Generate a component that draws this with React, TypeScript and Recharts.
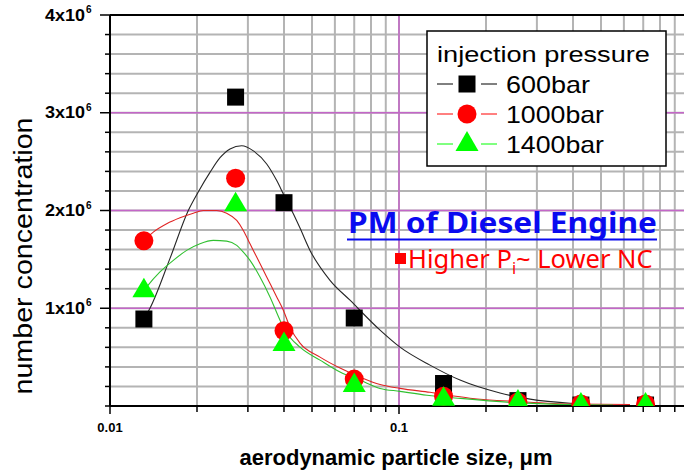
import React from 'react';
import { ComposedChart, Line, Scatter, XAxis, YAxis, CartesianGrid, ReferenceLine } from 'recharts';

// measured particle sizes (µm) and number concentrations (x10^6)
const particleSize = [0.0131, 0.0272, 0.040, 0.070, 0.1426, 0.258, 0.426, 0.713];
const nc600 = [0.89, 3.16, 2.08, 0.90, 0.23, 0.055, 0.01, 0.01];
const nc1000 = [1.69, 2.33, 0.77, 0.275, 0.10, 0.04, 0.02, 0.02];
const nc1400 = [1.18, 2.06, 0.63, 0.21, 0.07, 0.04, 0.01, 0.01];

// fitted curves
const fit600Size = [0.0131, 0.01375, 0.01613, 0.01866, 0.0202, 0.02218, 0.02403, 0.02602, 0.02855, 0.03134, 0.03485, 0.03775, 0.03979, 0.04309, 0.04544, 0.04921, 0.05771, 0.06768, 0.086, 0.1008, 0.128, 0.1626, 0.2236, 0.2841, 0.4];
const fit600NC = [0.89, 1.0, 1.51, 2.0, 2.19, 2.39, 2.54, 2.63, 2.663, 2.61, 2.476, 2.306, 2.17, 1.966, 1.82, 1.592, 1.286, 1.082, 0.776, 0.602, 0.418, 0.265, 0.133, 0.07, 0.025];

const fit1000Size = [0.0131, 0.01412, 0.01571, 0.01747, 0.01942, 0.02103, 0.0234, 0.02534, 0.02745, 0.02893, 0.03051, 0.03218, 0.03485, 0.03775, 0.03979, 0.04196, 0.04544, 0.0533, 0.0625, 0.07328, 0.086, 0.1008, 0.128, 0.1761, 0.2622, 0.4, 0.63];
const fit1000NC = [1.694, 1.779, 1.864, 1.925, 1.972, 2.0, 2.0, 1.972, 1.898, 1.796, 1.66, 1.524, 1.32, 1.116, 0.98, 0.806, 0.643, 0.5, 0.388, 0.296, 0.22, 0.18, 0.14, 0.08, 0.045, 0.02, 0.015];

const fit1400Size = [0.0131, 0.0134, 0.01489, 0.01656, 0.01842, 0.02048, 0.02278, 0.02534, 0.02745, 0.02893, 0.03051, 0.03304, 0.03578, 0.03875, 0.04032, 0.04544, 0.0533, 0.0625, 0.07328, 0.086, 0.1008, 0.125, 0.16, 0.25, 0.5, 0.55];
const fit1400NC = [1.18, 1.218, 1.371, 1.49, 1.592, 1.66, 1.694, 1.687, 1.643, 1.574, 1.49, 1.32, 1.116, 0.878, 0.776, 0.602, 0.469, 0.347, 0.265, 0.18, 0.15, 0.11, 0.08, 0.035, 0.01, 0.01];

const xTicks = [0.01, 0.02, 0.03, 0.04, 0.05, 0.06, 0.07, 0.08, 0.09, 0.1, 0.2, 0.3, 0.4, 0.5, 0.6, 0.7, 0.8, 0.9, 1];
const xLabels = [0.01, 0.1];
const yTicks = [0, 0.2, 0.4, 0.6, 0.8, 1, 1.2, 1.4, 1.6, 1.8, 2, 2.2, 2.4, 2.6, 2.8, 3, 3.2, 3.4, 3.6, 3.8, 4];
const yLabels = [1, 2, 3, 4];
const majorGridX = [0.1];
const majorGridY = [1, 2, 3];

const seriesNames = ['600bar', '1000bar', '1400bar'];
const legendTitle = 'injection pressure';

const toPoints = (xs: number[], ys: number[]) => xs.map((x, i) => ({ x, y: ys[i] }));

const pts600 = toPoints(particleSize, nc600);
const pts1000 = toPoints(particleSize, nc1000);
const pts1400 = toPoints(particleSize, nc1400);
const curve600 = toPoints(fit600Size, fit600NC);
const curve1000 = toPoints(fit1000Size, fit1000NC);
const curve1400 = toPoints(fit1400Size, fit1400NC);

const FONT = 'Liberation Sans, Arial, sans-serif';

const SquareShape = (p: any) => (
  <rect x={p.cx - 8.5} y={p.cy - 8.5} width={17} height={17} fill="#000" />
);
const CircleShape = (p: any) => <circle cx={p.cx} cy={p.cy} r={9.5} fill="#ff0000" />;
const TriangleShape = (p: any) => (
  <polygon
    points={`${p.cx},${p.cy - 13} ${p.cx + 11.5},${p.cy + 6.5} ${p.cx - 11.5},${p.cy + 6.5}`}
    fill="#00ff00"
  />
);

const near = (a: number, b: number) => Math.abs(a - b) < 1e-9;

const XTick = (props: any) => {
  const { x, y, payload } = props;
  const v = payload.value;
  const lab = xLabels.find((l) => near(l, v));
  return (
    <g>
      <line x1={x} x2={x} y1={y} y2={y + (lab !== undefined ? 8 : 6)} stroke="#000" strokeWidth={1.5} />
      {lab !== undefined && (
        <text x={x} y={y + 26} textAnchor="middle" fontSize={13} fontWeight="bold" fontFamily={FONT} fill="#000">
          {String(lab)}
        </text>
      )}
    </g>
  );
};

const YTick = (props: any) => {
  const { x, y, payload } = props;
  const v = payload.value;
  const lab = yLabels.find((l) => near(l, v));
  const major = lab !== undefined;
  return (
    <g>
      <line x1={x - (major ? 10 : 5)} x2={x} y1={y} y2={y} stroke="#000" strokeWidth={1.5} />
      {major && (
        <text x={x - 25} y={y + 5.5} textAnchor="end" fontSize={17} fontWeight="bold" fontFamily={FONT} fill="#000" textLength={40} lengthAdjust="spacingAndGlyphs">
          {`${lab}x10`}
        </text>
      )}
      {major && (
        <text x={x - 24} y={y - 2} textAnchor="start" fontSize={10} fontWeight="bold" fontFamily={FONT} fill="#000">
          6
        </text>
      )}
    </g>
  );
};

const RTick = (props: any) => {
  const { x, y } = props;
  return <line x1={x - 5} x2={x} y1={y} y2={y} stroke="#000" strokeWidth={1.5} />;
};

const LEG_FONT = 'Liberation Sans, Arial, sans-serif';

const Overlay = () => (
  <svg width={684} height={472} style={{ position: 'absolute', left: 0, top: 0, pointerEvents: 'none' }}>
    {/* y axis title */}
    <text
      x={32}
      y={256}
      transform="rotate(-90, 32, 256)"
      textAnchor="middle"
      fontSize={25}
      fontFamily={FONT}
      fill="#000"
      textLength={277}
      lengthAdjust="spacingAndGlyphs"
    >
      number concentration
    </text>
    {/* x axis title */}
    <text x={396} y={465} textAnchor="middle" fontSize={22} fontWeight="bold" fontFamily={FONT} fill="#000">
      aerodynamic particle size, μm
    </text>
    {/* legend */}
    <rect x={427} y={31} width={239} height={135} fill="#fff" stroke="#000" strokeWidth={1.5} />
    <text x={437} y={62} fontSize={22} fontFamily={LEG_FONT} fill="#000" textLength={213} lengthAdjust="spacingAndGlyphs">
      {legendTitle}
    </text>
    {/* row 1 */}
    <line x1={437} x2={453} y1={84} y2={84} stroke="#000" strokeWidth={1} />
    <line x1={481} x2={497} y1={84} y2={84} stroke="#000" strokeWidth={1} />
    <rect x={458.5} y={75.5} width={17} height={17} fill="#000" />
    <text x={506} y={93} fontSize={24} fontFamily={LEG_FONT} fill="#000" textLength={84} lengthAdjust="spacingAndGlyphs">
      {seriesNames[0]}
    </text>
    {/* row 2 */}
    <line x1={437} x2={453} y1={114} y2={114} stroke="#ff0000" strokeWidth={1} />
    <line x1={481} x2={497} y1={114} y2={114} stroke="#ff0000" strokeWidth={1} />
    <circle cx={467} cy={114} r={9.5} fill="#ff0000" />
    <text x={506} y={123} fontSize={24} fontFamily={LEG_FONT} fill="#000" textLength={98} lengthAdjust="spacingAndGlyphs">
      {seriesNames[1]}
    </text>
    {/* row 3 */}
    <line x1={437} x2={453} y1={144} y2={144} stroke="#00ff00" strokeWidth={1} />
    <line x1={481} x2={497} y1={144} y2={144} stroke="#00ff00" strokeWidth={1} />
    <polygon points="467,131 478.5,151 455.5,151" fill="#00ff00" />
    <text x={506} y={153} fontSize={24} fontFamily={LEG_FONT} fill="#000" textLength={98} lengthAdjust="spacingAndGlyphs">
      {seriesNames[2]}
    </text>
    {/* annotation */}
    <text x={348} y={233} fontSize={28} fontWeight="bold" fontFamily="Noto Sans, sans-serif" fill="#0a0af0" textLength={309} lengthAdjust="spacingAndGlyphs">
      PM of Diesel Engine
    </text>
    <line x1={347} x2={657} y1={239.5} y2={239.5} stroke="#0a0af0" strokeWidth={2} />
    <rect x={395} y={253} width={11} height={11} fill="#ff0000" />
    <text x={408} y={268} fontSize={25.5} fontFamily="Noto Sans, sans-serif" fill="#ff0000">
      Higher P
      <tspan fontSize={16} dy={6}>i</tspan>
      <tspan fontSize={25.5} dy={-6}>~ Lower NC</tspan>
    </text>
  </svg>
);

export default function App() {
  return (
    <div style={{ position: 'absolute', left: 0, top: 0, width: 684, height: 472, overflow: 'hidden', background: '#fff' }}>
      <ComposedChart width={700} height={472} margin={{ top: 15, right: 12, bottom: 0, left: 0 }}>
        <CartesianGrid stroke="#b4b4b4" strokeWidth={2} />
        <XAxis
          dataKey="x"
          type="number"
          scale="log"
          domain={[0.01, 1]}
          ticks={xTicks}
          interval={0}
          height={66}
          tickSize={0}
          tickMargin={0}
          tickLine={false}
          tick={<XTick />}
          axisLine={{ stroke: '#000', strokeWidth: 2 }}
          allowDataOverflow
        />
        <YAxis
          dataKey="y"
          type="number"
          domain={[0, 4]}
          ticks={yTicks}
          interval={0}
          width={110}
          tickSize={0}
          tickMargin={0}
          tickLine={false}
          tick={<YTick />}
          axisLine={{ stroke: '#000', strokeWidth: 2 }}
          allowDataOverflow
        />
        <YAxis
          yAxisId="right"
          orientation="right"
          type="number"
          domain={[0, 4]}
          ticks={yTicks}
          interval={0}
          width={0}
          tickSize={0}
          tickMargin={0}
          tickLine={false}
          tick={<RTick />}
          axisLine={{ stroke: '#000', strokeWidth: 2 }}
          allowDataOverflow
        />
        {majorGridY.map((v) => (
          <ReferenceLine key={'my' + v} y={v} stroke="#c466c8" strokeWidth={1.5} />
        ))}
        {majorGridX.map((v) => (
          <ReferenceLine key={'mx' + v} x={v} stroke="#c466c8" strokeWidth={1.5} />
        ))}
        <ReferenceLine y={4} stroke="#000" strokeWidth={2} />
        <Line data={curve600} dataKey="y" type="monotone" dot={false} stroke="#262626" strokeWidth={1.1} isAnimationActive={false} />
        <Line data={curve1000} dataKey="y" type="monotone" dot={false} stroke="#e02424" strokeWidth={1.1} isAnimationActive={false} />
        <Line data={curve1400} dataKey="y" type="monotone" dot={false} stroke="#30c030" strokeWidth={1.1} isAnimationActive={false} />
        <Scatter data={pts600} dataKey="y" shape={SquareShape} isAnimationActive={false} />
        <Scatter data={pts1000} dataKey="y" shape={CircleShape} isAnimationActive={false} />
        <Scatter data={pts1400} dataKey="y" shape={TriangleShape} isAnimationActive={false} />
      </ComposedChart>
      <Overlay />
    </div>
  );
}
